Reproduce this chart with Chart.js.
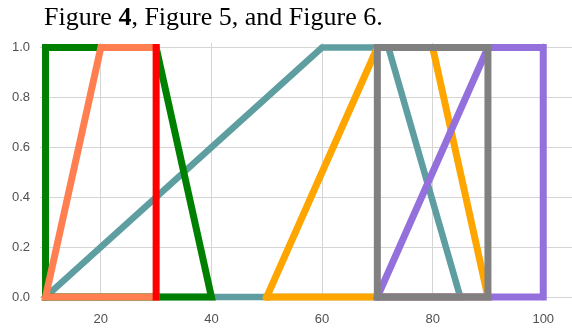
<!DOCTYPE html>
<html>
<head>
<meta charset="utf-8">
<script src="https://cdn.jsdelivr.net/npm/chart.js@4.4.1/dist/chart.umd.min.js"></script>
<style>
    html, body { margin: 0; padding: 0; background: #fff; }
    #wrap { position: relative; width: 572px; height: 328px; overflow: hidden; }
    #caption {
        position: absolute; left: 44px; top: 4px;
        font-family: 'Liberation Serif', 'Times New Roman', serif;
        font-size: 26px; color: #000; white-space: nowrap; line-height: 26px;
    }
    #box { position: absolute; left: 0; top: 0; width: 572px; height: 328px; }
</style>
</head>
<body>
<div id="wrap">
    <div id="box"><canvas id="chart"></canvas></div>
    <div id="caption">Figure <b>4</b>, Figure 5, and Figure 6.</div>
</div>
<script>
/* fuzzy membership shapes, drawn as closed outlines */

const COLORS = {
    teal: '#5f9ea0',
    green: '#008000',
    coral: '#ff7f50',
    red: '#ff0000',
    orange: '#ffa500',
    gray: '#808080',
    purple: '#9370db',
    grid: '#d5d5d5',
    tick: '#505050',
};

const xTicks = [20, 40, 60, 80, 100];
const yTicks = [0.0, 0.2, 0.4, 0.6, 0.8, 1.0];

const tealX = [10, 60, 72, 85, 10];
const tealY = [0, 1, 1, 0, 0];

const greenX = [10, 10, 30, 40, 10];
const greenY = [0, 1, 1, 0, 0];

const coralX = [30, 10, 20, 30];
const coralY = [0, 0, 1, 1];

const redX = [30, 30];
const redY = [0, 1];

const orangeX = [50, 70, 80, 90, 50];
const orangeY = [0, 1, 1, 0, 0];

const grayX = [70, 70, 90, 90, 70];
const grayY = [0, 1, 1, 0, 0];

const purpleX = [70, 90, 100, 100, 70];
const purpleY = [0, 1, 1, 0, 0];

function pts(xs, ys) {
    return xs.map((x, i) => ({ x: x, y: ys[i] }));
}

// higher order = drawn further back
function shape(xs, ys, color, order, width) {
    return {
        data: pts(xs, ys),
        showLine: true,
        borderColor: color,
        backgroundColor: color,
        borderWidth: width || 7,
        borderJoinStyle: 'miter',
        borderCapStyle: 'square',
        pointRadius: 0,
        pointHoverRadius: 0,
        fill: false,
        tension: 0,
        order: order,
    };
}

const tickFont = { family: "'Liberation Sans', Arial, sans-serif", size: 13 };

new Chart(document.getElementById('chart'), {
    type: 'scatter',
    data: {
        datasets: [
            shape(tealX, tealY, COLORS.teal, 7, 6.5),
            shape(greenX, greenY, COLORS.green, 6),
            shape(coralX, coralY, COLORS.coral, 5),
            shape(redX, redY, COLORS.red, 4),
            shape(orangeX, orangeY, COLORS.orange, 3),
            shape(purpleX, purpleY, COLORS.purple, 2),
            shape(grayX, grayY, COLORS.gray, 1),
        ],
    },
    options: {
        responsive: true,
        maintainAspectRatio: false,
        animation: false,
        layout: { padding: { top: 43, right: 0, left: 0, bottom: 0 } },
        scales: {
            x: {
                type: 'linear',
                min: 9.0,
                max: 105.2,
                afterBuildTicks: axis => { axis.ticks = xTicks.map(v => ({ value: v })); },
                afterFit: axis => { axis.height = 27; },
                ticks: {
                    font: tickFont,
                    color: COLORS.tick,
                    padding: 11,
                    maxRotation: 0,
                },
                grid: { color: COLORS.grid, lineWidth: 1, drawTicks: false },
                border: { display: false },
            },
            y: {
                type: 'linear',
                min: -0.016,
                max: 1.018,
                afterBuildTicks: axis => { axis.ticks = yTicks.map(v => ({ value: v })); },
                afterFit: axis => { axis.width = 40; },
                ticks: {
                    font: tickFont,
                    color: COLORS.tick,
                    padding: 10,
                    callback: v => v.toFixed(1),
                },
                grid: { color: COLORS.grid, lineWidth: 1, drawTicks: false },
                border: { display: false },
            },
        },
        plugins: {
            legend: { display: false },
            tooltip: { enabled: false },
        },
    },
});
</script>
</body>
</html>
